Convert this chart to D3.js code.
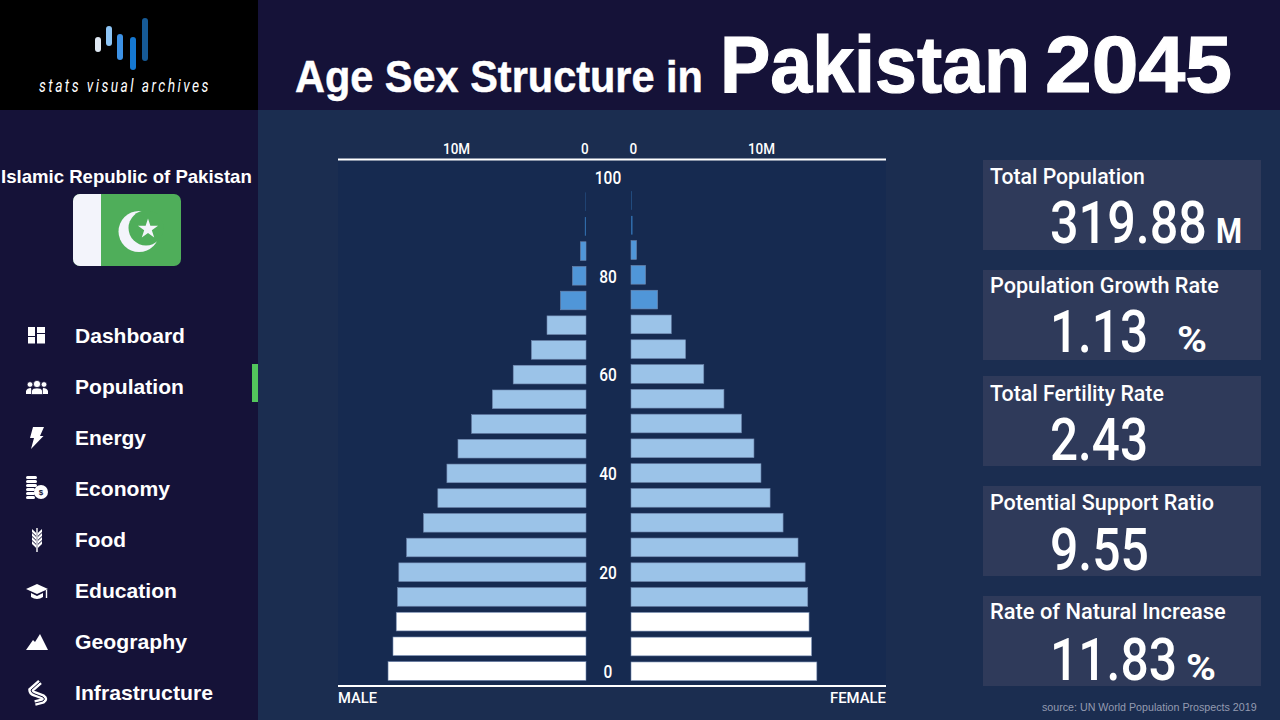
<!DOCTYPE html>
<html>
<head>
<meta charset="utf-8">
<title>Age Sex Structure in Pakistan 2045</title>
<script src="https://cdn.jsdelivr.net/npm/d3@7"></script>
<style>
  html, body { margin: 0; padding: 0; background: #1b2d50; overflow: hidden; }
  svg { display: block; }
</style>
</head>
<body>
<svg id="chart" width="1280" height="720"></svg>
<script>
// population by five year age group, in millions, youngest first
var ageGroups = [0, 5, 10, 15, 20, 25, 30, 35, 40, 45, 50, 55, 60, 65, 70, 75, 80, 85, 90, 95];
var maleValues = [15.23, 14.85, 14.6, 14.5, 14.4, 13.8, 12.5, 11.4, 10.7, 9.85, 8.8, 7.2, 5.6, 4.2, 3.0, 1.96, 1.04, 0.42, 0.09, 0.03];
var femaleValues = [14.3, 13.9, 13.7, 13.6, 13.4, 12.85, 11.7, 10.7, 10.0, 9.46, 8.5, 7.15, 5.6, 4.2, 3.1, 2.05, 1.12, 0.42, 0.12, 0.04];
var ageTicks = [0, 20, 40, 60, 80, 100];
var popTicks = [0, 10];

var cardTitles = ["Total Population", "Population Growth Rate", "Total Fertility Rate", "Potential Support Ratio", "Rate of Natural Increase"];
var cardValues = ["319.88", "1.13", "2.43", "9.55", "11.83"];
var cardUnits = ["M", "%", "", "", "%"];
var navItems = ["Dashboard", "Population", "Energy", "Economy", "Food", "Education", "Geography", "Infrastructure"];

var svg = d3.select("#chart");
var condensed = "Roboto, sans-serif";
var helvetica = "'Liberation Sans', Arial, sans-serif";

// squeezes a string to a measured width, the original face is narrower than anything installed
function fitText(parent, str, x, y, width, size, family, weight) {
  var t = parent.append("text")
    .attr("font-family", family).attr("font-size", size).attr("font-weight", weight)
    .attr("fill", "#fff")
    .text(str);
  fitTo(t, x, y, width);
  return t;
}

function fitTo(t, x, y, width) {
  var natural = t.node().getComputedTextLength();
  t.attr("transform", "translate(" + x + "," + y + ") scale(" + (width / natural) + ",1)");
}

function drawBackground() {
  svg.append("rect").attr("width", 1280).attr("height", 720).attr("fill", "#1b2d50");
  svg.append("rect").attr("x", 338).attr("y", 160).attr("width", 548).attr("height", 526).attr("fill", "#162a50");
  svg.append("rect").attr("x", 258).attr("width", 1022).attr("height", 110).attr("fill", "#151238");
  svg.append("rect").attr("y", 110).attr("width", 258).attr("height", 610).attr("fill", "#151238");
  svg.append("rect").attr("width", 258).attr("height", 110).attr("fill", "#000");
}

function drawLogo() {
  var logo = svg.append("g");
  var bars = [[98, 37, 52, "#dfe8f2"], [109, 26, 46, "#8ec5f5"], [120, 34, 60, "#3d92e6"], [133, 37, 70, "#1578d2"], [145, 18, 61, "#165a96"]];
  logo.selectAll("rect").data(bars).join("rect")
    .attr("x", function (d) { return d[0] - 3; })
    .attr("y", function (d) { return d[1]; })
    .attr("width", 6).attr("rx", 3)
    .attr("height", function (d) { return d[2] - d[1]; })
    .attr("fill", function (d) { return d[3]; });
  var name = logo.append("text")
    .attr("font-family", condensed).attr("font-size", 18).attr("font-style", "italic")
    .attr("letter-spacing", 3.2).attr("fill", "#fff")
    .text("stats visual archives");
  fitTo(name, 39, 92, 172);
}

function drawTitle() {
  fitText(svg, "Age Sex Structure in", 295, 92, 408, 44, helvetica, 700)
    .attr("stroke", "#fff").attr("stroke-width", 0.5);
  fitText(svg, "Pakistan", 720, 92, 310, 79, helvetica, 700)
    .attr("stroke", "#fff").attr("stroke-width", 1.2);
  fitText(svg, "2045", 1045, 92, 187, 79, helvetica, 700)
    .attr("stroke", "#fff").attr("stroke-width", 1.2);
}

function drawFlag() {
  fitText(svg, "Islamic Republic of Pakistan", 1, 183, 251, 18, helvetica, 700);
  var flag = svg.append("g");
  flag.append("rect").attr("x", 73).attr("y", 194).attr("width", 108).attr("height", 72).attr("rx", 7).attr("fill", "#4fae5a");
  flag.append("path").attr("d", "M101,194H80a7,7 0 0 0 -7,7V259a7,7 0 0 0 7,7H101Z").attr("fill", "#f3f4fb");
  flag.append("circle").attr("cx", 139).attr("cy", 231.5).attr("r", 20.5).attr("fill", "#f3f4fb");
  flag.append("circle").attr("cx", 146).attr("cy", 228).attr("r", 17.5).attr("fill", "#4fae5a");
  flag.append("path")
    .attr("d", d3.symbol(d3.symbolStar, 125)())
    .attr("transform", "translate(148,229)")
    .attr("fill", "#f3f4fb");
}

// nav icons, local coordinates centred on the icon
var iconDraw = {
  Dashboard: function (g) {
    [[-9, -9, 7, 9], [-9, 1, 7, 6.5], [0, -9, 8, 6], [0, -2, 8, 9.5]].forEach(function (r) {
      g.append("rect").attr("x", r[0]).attr("y", r[1]).attr("width", r[2]).attr("height", r[3]).attr("fill", "#fff");
    });
  },
  Population: function (g) {
    [[-7, -2.5, 2.8], [7, -2.5, 2.8], [0, -3, 3.6]].forEach(function (c) {
      g.append("circle").attr("cx", c[0]).attr("cy", c[1]).attr("r", c[2]).attr("fill", "#fff").attr("stroke", "#151238").attr("stroke-width", 0.7);
    });
    g.append("path").attr("d", "M-11,7V4Q-10,1 -6,1L-5,7ZM11,7V4Q10,1 6,1L5,7Z").attr("fill", "#fff");
    g.append("path").attr("d", "M-5.5,7.5V4Q-5,1 0,1Q5,1 5.5,4V7.5Z").attr("fill", "#fff").attr("stroke", "#151238").attr("stroke-width", 0.7);
  },
  Energy: function (g) {
    g.append("path").attr("d", "M-4,-11H7L3,-2H6.5L-6,11L-3,0H-7Z").attr("fill", "#fff");
  },
  Economy: function (g) {
    [-13, -9, -5, -1, 3, 7].forEach(function (y, i) {
      g.append("rect").attr("x", -11).attr("y", y).attr("width", i < 3 ? 11 : 9).attr("height", 3).attr("rx", 1.5).attr("fill", "#fff");
    });
    g.append("circle").attr("cx", 4).attr("cy", 3).attr("r", 7).attr("fill", "#fff");
    g.append("text").attr("x", 4).attr("y", 6).attr("text-anchor", "middle")
      .attr("font-family", helvetica).attr("font-size", 8).attr("font-weight", 700).attr("fill", "#151238").text("$");
  },
  Food: function (g) {
    g.append("path").attr("d", "M0,-12V12").attr("stroke", "#fff").attr("stroke-width", 1.4);
    [-9, -5, -1, 3].forEach(function (y) {
      g.append("path").attr("d", "M-0.8," + (y + 5) + "L-5," + (y + 1) + "V" + (y - 2) + "L-0.8," + (y + 2) + "Z").attr("fill", "#fff");
      g.append("path").attr("d", "M0.8," + (y + 5) + "L5," + (y + 1) + "V" + (y - 2) + "L0.8," + (y + 2) + "Z").attr("fill", "#fff");
    });
  },
  Education: function (g) {
    g.append("path").attr("d", "M-11,-2L0,-7L11,-2L0,3Z").attr("fill", "#fff");
    g.append("path").attr("d", "M-6,2L0,5L6,2V6Q0,10 -6,6Z").attr("fill", "#fff");
    g.append("path").attr("d", "M9.5,-1V7").attr("stroke", "#fff").attr("stroke-width", 1.4);
  },
  Geography: function (g) {
    g.append("path").attr("d", "M-11,8L-4,-2L-2,0L3,-8L11,8Z").attr("fill", "#fff");
  },
  Infrastructure: function (g) {
    var road = "M3,-11L-6,-3Q-6,0 -2,1L6,4Q9,6 6,8L-2,10";
    g.append("path").attr("d", road).attr("fill", "none").attr("stroke", "#fff").attr("stroke-width", 5.5);
    g.append("path").attr("d", road).attr("fill", "none").attr("stroke", "#151238").attr("stroke-width", 1);
  }
};

function drawNav() {
  var navWidths = [110, 109, 71, 95, 51, 102, 112, 138];
  var navY = d3.scalePoint().domain(navItems).range([336, 693]);
  navItems.forEach(function (name, i) {
    var cy = navY(name);
    fitText(svg, name, 75, cy + 6.5, navWidths[i], 21, helvetica, 700);
    iconDraw[name](svg.append("g").attr("transform", "translate(37," + cy + ")"));
  });
  svg.append("rect").attr("x", 252).attr("y", 364).attr("width", 6).attr("height", 38).attr("fill", "#52c65c");
}

function drawPyramid() {
  var allAges = ageGroups.concat([100]);
  // video frame is very slightly tilted so the right side sits a touch higher near the top
  var yMale = d3.scaleBand().domain(allAges).range([683.35, 164.65]).paddingInner(0.245).paddingOuter(0.1225);
  var yFemale = d3.scaleBand().domain(allAges).range([683.7, 163.3]).paddingInner(0.245).paddingOuter(0.1225);
  var xMale = d3.scaleLinear().domain([0, 19.08]).range([586, 338]);
  var xFemale = d3.scaleLinear().domain([0, 19.62]).range([631, 886]);

  function barColor(i) {
    if (i < 3) return "#ffffff";
    if (i < 15) return "#9bc3e8";
    if (i < 18) return "#5096d8";
    return "#2f6aa8";
  }
  function barStroke(i) {
    return i < 18 ? "#6f86ad" : "none";
  }

  svg.append("g").selectAll("rect").data(maleValues).join("rect")
    .attr("x", function (d) { return xMale(d); })
    .attr("y", function (d, i) { return yMale(ageGroups[i]); })
    .attr("width", function (d) { return xMale(0) - xMale(d); })
    .attr("height", yMale.bandwidth())
    .attr("fill", function (d, i) { return barColor(i); })
    .attr("stroke", function (d, i) { return barStroke(i); }).attr("stroke-width", 0.6);

  svg.append("g").selectAll("rect").data(femaleValues).join("rect")
    .attr("x", xFemale(0))
    .attr("y", function (d, i) { return yFemale(ageGroups[i]); })
    .attr("width", function (d) { return xFemale(d) - xFemale(0); })
    .attr("height", yFemale.bandwidth())
    .attr("fill", function (d, i) { return barColor(i); })
    .attr("stroke", function (d, i) { return barStroke(i); }).attr("stroke-width", 0.6);

  function popAxis(scale, zeroShift) {
    var g = svg.append("g").attr("transform", "translate(0,159.5)")
      .call(d3.axisTop(scale).tickValues(popTicks).tickSize(0).tickPadding(6)
        .tickFormat(function (d) { return d === 0 ? "0" : d + "M"; }));
    g.select(".domain").remove();
    g.selectAll("text")
      .attr("font-family", condensed).attr("font-size", 15.5).attr("font-weight", 500).attr("fill", "#fff")
      .attr("dx", function (d) { return d === 0 ? zeroShift : 0; })
      .attr("transform", "scale(0.87,1)");
  }
  popAxis(xMale, -2);
  popAxis(xFemale, 2);

  [159.5, 686].forEach(function (y) {
    svg.append("line").attr("x1", 338).attr("x2", 886).attr("y1", y).attr("y2", y)
      .attr("stroke", "#fff").attr("stroke-width", 2);
  });

  var ageAxis = svg.append("g").attr("transform", "translate(608,0)")
    .call(d3.axisLeft(yMale).tickValues(ageTicks).tickSize(0).tickPadding(0));
  ageAxis.select(".domain").remove();
  ageAxis.selectAll("text")
    .attr("x", 0).attr("y", 1).attr("text-anchor", "middle")
    .attr("font-family", condensed).attr("font-size", 18).attr("font-weight", 500).attr("fill", "#fff")
    .attr("transform", "scale(0.86,1)");

  fitText(svg, "MALE", 338, 703, 39, 15.5, condensed, 500);
  fitText(svg, "FEMALE", 830, 703, 56, 15.5, condensed, 500);
}

function drawCards() {
  var cardTops = [160, 270, 376, 486, 596];
  var titleBase = [184, 293, 401, 510, 619];
  var valueBase = [243, 352, 460, 570, 680];
  var titleWidths = [155, 229, 174, 224, 236];
  var valueWidths = [157, 98, 98, 99, 127];
  var unitX = [1216, 1177, 0, 0, 1186];
  var unitWidths = [26, 30, 0, 0, 30];
  var unitSizes = [35, 37, 0, 0, 37];
  cardTitles.forEach(function (title, i) {
    svg.append("rect").attr("x", 983).attr("y", cardTops[i]).attr("width", 278).attr("height", 90).attr("fill", "#2f3a5a");
    fitText(svg, title, 990, titleBase[i], titleWidths[i], 22, condensed, 500);
    fitText(svg, cardValues[i], 1050, valueBase[i], valueWidths[i], 60, condensed, 500);
    if (cardUnits[i]) {
      fitText(svg, cardUnits[i], unitX[i], valueBase[i], unitWidths[i], unitSizes[i], condensed, 700);
    }
  });
  fitText(svg, "source: UN World Population Prospects 2019", 1042, 711, 215, 11, helvetica, 400).attr("fill", "#949bb0");
}

drawBackground();
drawLogo();
drawTitle();
drawFlag();
drawNav();
drawPyramid();
drawCards();
</script>
</body>
</html>
